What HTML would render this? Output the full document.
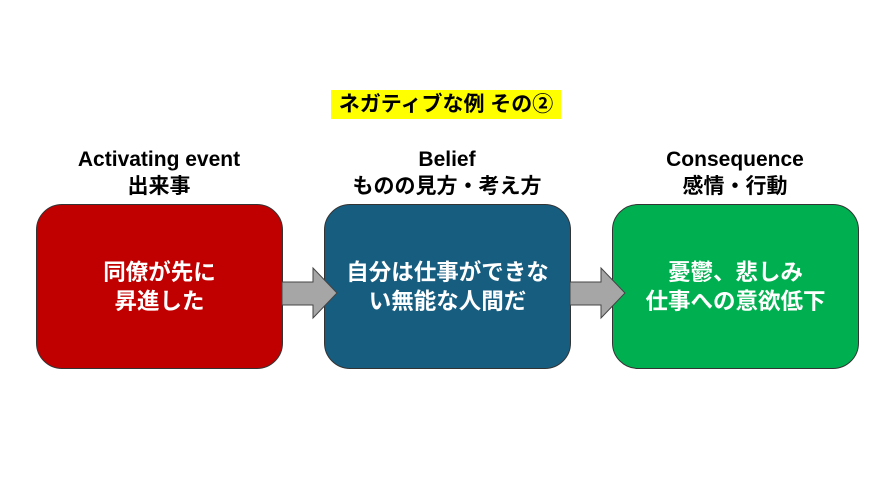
<!DOCTYPE html>
<html><head><meta charset="utf-8"><style>
body{margin:0;width:890px;height:500px;background:#fff;position:relative;font-family:"Liberation Sans","Noto Sans CJK JP",sans-serif;font-weight:bold;overflow:hidden}
.t{position:absolute;left:331px;top:90px;width:230px;height:29px;background:#ffff00;font-size:21px;line-height:29px;text-align:center;color:#000;white-space:nowrap}
.h{position:absolute;width:300px;text-align:center;font-size:21px;line-height:27px;top:146px;color:#000}
.b{position:absolute;top:204px;width:247px;height:165px;border:1px solid #333;border-radius:26px;box-sizing:border-box;display:flex;align-items:center;justify-content:center;text-align:center;color:#fff;font-size:22.5px;line-height:29px;white-space:nowrap}
svg{position:absolute;left:0;top:0}
</style></head><body>
<div class="t">ネガティブな例 その②</div>
<div class="h" style="left:9px">Activating event<br>出来事</div>
<div class="h" style="left:297px">Belief<br>ものの見方・考え方</div>
<div class="h" style="left:585px">Consequence<br>感情・行動</div>
<div class="b" style="left:36px;background:#c00000">同僚が先に<br>昇進した</div>
<div class="b" style="left:324px;background:#175d80">自分は仕事ができな<br>い無能な人間だ</div>
<div class="b" style="left:612px;background:#00b050">憂鬱、悲しみ<br>仕事への意欲低下</div>
<svg width="890" height="500">
<polygon points="282,282 313,282 313,268 337,293 313,318 313,305 282,305" fill="#a6a6a6" stroke="#444" stroke-width="1"/>
<polygon points="570,282 601,282 601,268 625,293 601,318 601,305 570,305" fill="#a6a6a6" stroke="#444" stroke-width="1"/>
</svg>
</body></html>
